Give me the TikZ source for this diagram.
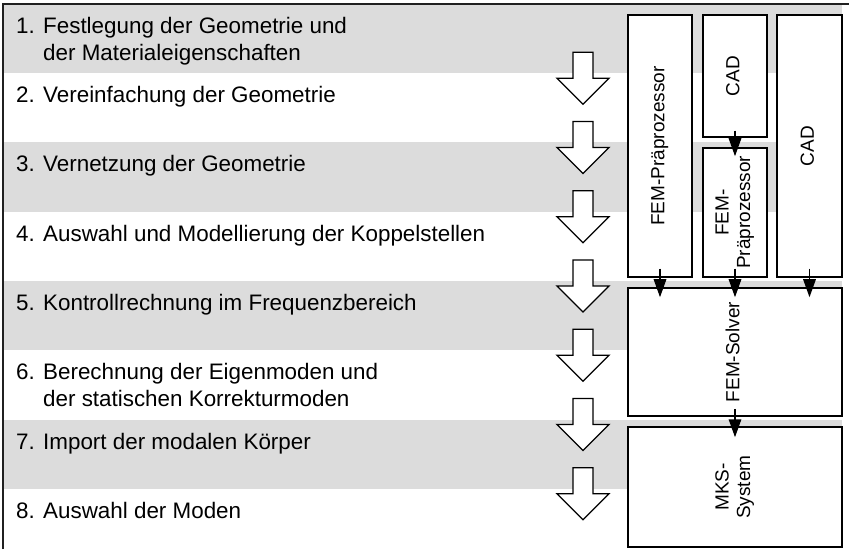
\documentclass[tikz,border=0pt]{standalone}
\usepackage{fontspec}
\setmainfont{Liberation Sans}
\usetikzlibrary{arrows.meta,calc}

\definecolor{bandgray}{HTML}{DCDCDC}
\definecolor{framegray}{HTML}{202020}

\tikzset{
  frameline/.style={draw=framegray, line width=2pt},
  band/.style={fill=bandgray, draw=none},
  steptext/.style={anchor=north west, inner sep=0pt, align=left,
    font=\fontsize{22.4}{27}\selectfont},
  toolbox/.style={draw=black, line width=1.5pt, fill=white, inner sep=0pt,
    font=\fontsize{19}{21.5}\selectfont},
  flow/.style={draw=black, line width=1.6pt,
    -{Triangle[length=18pt,width=12.5pt]}},
  blockarrow/.style={draw=black, line width=1.3pt, fill=white, line join=miter}
}

\newcommand{\vlabel}[1]{\rotatebox{90}{\begin{tabular}{@{}c@{}}#1\end{tabular}}}

\begin{document}
\begin{tikzpicture}[x=1pt,y=-1pt]
  \useasboundingbox (0,0) rectangle (849,556);

  % alternating grey process bands (odd steps shaded)
  \foreach \k in {0,2,4,6}{
    \fill[band] (3,{4+69.25*\k}) rectangle (842,{4+69.25*(\k+1)});
  }

  % frame lines along top and left edge
  \draw[frameline] (3,549) -- (3,4) -- (849,4);

  % process steps
  \node[steptext] (step1) at (16,17.5)  {1. Festlegung der Geometrie und\\\phantom{1. }der Materialeigenschaften};
  \node[steptext] (step2) at (16,86)  {2. Vereinfachung der Geometrie};
  \node[steptext] (step3) at (16,155.5) {3. Vernetzung der Geometrie};
  \node[steptext] (step4) at (16,225) {4. Auswahl und Modellierung der Koppelstellen};
  \node[steptext] (step5) at (16,294) {5. Kontrollrechnung im Frequenzbereich};
  \node[steptext] (step6) at (16,363.5) {6. Berechnung der Eigenmoden und\\\phantom{6. }der statischen Korrekturmoden};
  \node[steptext] (step7) at (16,433) {7. Import der modalen Körper};
  \node[steptext] (step8) at (16,502) {8. Auswahl der Moden};

  % block arrows between the steps
  \foreach \k in {1,...,7}{
    \pgfmathsetmacro{\t}{4+69.25*\k-21}
    \draw[blockarrow] (573,\t) -- (593,\t) -- (593,\t+26) -- (609,\t+26)
      -- (583,\t+52) -- (557,\t+26) -- (573,\t+26) -- cycle;
  }

  % software tools
  \node[toolbox, minimum width=64pt, minimum height=262pt] (fempre) at (660,146)
    {\vlabel{FEM-Präprozessor}};
  \node[toolbox, minimum width=64pt, minimum height=122pt] (cadA) at (735,76)
    {\vlabel{CAD}};
  \node[toolbox, minimum width=64pt, minimum height=129pt] (fempreB) at (735,212.5)
    {\vlabel{FEM-\\Präprozessor}};
  \node[toolbox, minimum width=65pt, minimum height=262pt] (cadB) at (809.5,146)
    {\vlabel{CAD}};
  \node[toolbox, minimum width=214pt, minimum height=128pt] (solver) at (735,352)
    {\vlabel{FEM-Solver}};
  \node[toolbox, minimum width=214pt, minimum height=120pt] (mks) at (735,487)
    {\vlabel{MKS-\\System}};

  % data flow between tools
  \draw[flow] ($(cadA.south)+(0,-7)$) -- ($(fempreB.north)+(0,9)$);
  \draw[flow] ($(fempre.south)+(0,-9)$) -- ($(fempre.south |- solver.north)+(0,10)$);
  \draw[flow] ($(fempreB.south)+(0,-9)$) -- ($(solver.north)+(0,10)$);
  \draw[flow] ($(cadB.south)+(0,-9)$) -- ($(cadB.south |- solver.north)+(0,10)$);
  \draw[flow] ($(solver.south)+(0,-8)$) -- ($(mks.north)+(0,11)$);
\end{tikzpicture}
\end{document}
